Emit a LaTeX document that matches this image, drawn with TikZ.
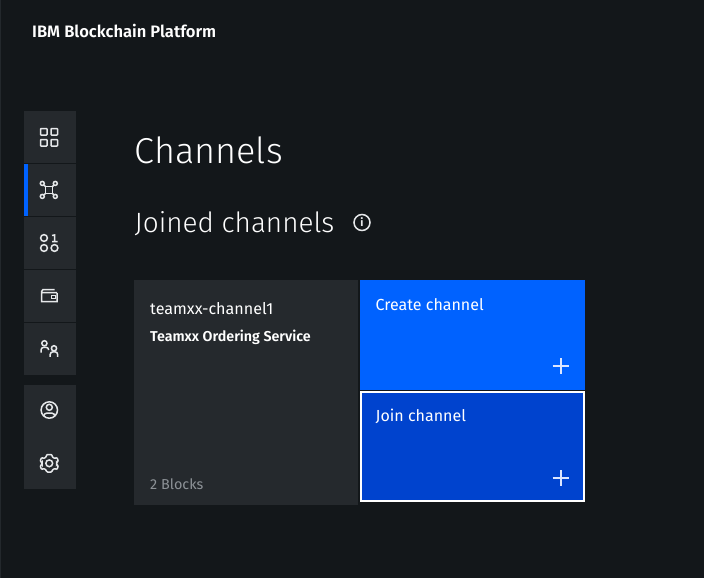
\documentclass[tikz,border=0pt]{standalone}
\usepackage{fontspec}
\setmainfont{Fira Sans}
\newfontfamily\lightfont{Fira Sans Light}
\newfontfamily\mediumfont{Fira Sans SemiBold}
\definecolor{pagebg}{HTML}{13171A}
\definecolor{edgeline}{HTML}{23282C}
\definecolor{tilebg}{HTML}{25292D}
\definecolor{activeblue}{HTML}{0062FF}
\definecolor{joinblue}{HTML}{0043CE}
\definecolor{iconline}{HTML}{E6E8EA}
\definecolor{mutedtext}{HTML}{8D9297}
\definecolor{plusline}{HTML}{DCE6FF}
\tikzset{
tile/.style={fill=tilebg, draw=none, inner sep=0pt, minimum width=52pt, minimum height=52pt, anchor=north west},
icon/.style={draw=iconline, line width=1.5pt},
label/.style={text=white, inner sep=0pt, anchor=base west},
plus/.style={draw=plusline, line width=1.2pt},
}
\begin{document}
\begin{tikzpicture}
[x=1pt, y=-1pt]
\useasboundingbox (0,0) rectangle (704,578);
\fill [pagebg] (0,0) rectangle (704,578);
\fill [edgeline] (0,0) rectangle (1,578);
\node [label, font=\mediumfont\fontsize{16.55}{18}\selectfont] (brand) at (32,37.5) {IBM Blockchain Platform};
% sidebar
\node [tile] (tileA) at (24,111) {};
\node [tile] (tileB) at (24,164) {};
\node [tile] (tileC) at (24,217) {};
\node [tile] (tileD) at (24,270) {};
\node [tile] (tileE) at (24,323) {};
\node [tile] (tileF) at (24,385) {};
\node [tile] (tileG) at (24,437) {};
\fill [activeblue] (24,164) rectangle (27.5,216);
% dashboard icon
\draw [icon, rounded corners=0.6pt] (40.5,128.5) rectangle (47,135);
\draw [icon, rounded corners=0.6pt] (51,128.5) rectangle (57.5,135);
\draw [icon, rounded corners=0.6pt] (40.5,139.5) rectangle (47,146);
\draw [icon, rounded corners=0.6pt] (51,139.5) rectangle (57.5,146);
% network icon
\draw [icon] (45.5,186.5) rectangle (52.5,193.5);
\draw [icon] (42.3,183.4) circle (2) (55.3,183.4) circle (2) (42.3,196.4) circle (2) (55.3,196.4) circle (2);
\draw [icon] (43.6,185) -- (45.5,186.5) (54,185) -- (52.5,186.5) (43.6,195) -- (45.5,193.5) (54,195) -- (52.5,193.5);
% binary icon
\draw [icon] (44,238) circle (3.4) (44,248) circle (3.4) (54.5,248) circle (3.4);
\draw [icon] (52,235.5) -- (54.5,235) -- (54.5,241.5) (52,241.5) -- (57.5,241.5);
% wallet icon
\draw [icon] (57,293) -- (57,301.5) -- (41.5,301.5) -- (41.5,291.5) -- (43,289.5) -- (54.5,289.5) (41.5,292.5) -- (57,292.5);
\draw [icon, line width=1pt] (51.5,295.5) rectangle (55,298.5);
% people icon
\draw [icon] (44.4,343.3) circle (2.6) (54,348.3) circle (2.6);
\draw [icon] (41,352.5) -- (41,350) arc (180:270:2.7) -- (46,347.3) arc (270:360:2.7) (50.2,356.8) -- (50.2,354.5) arc (180:270:2.7) -- (55,351.8) arc (-90:0:2.7) -- (57.7,356.8);
% account icon
\draw [icon] (49.3,410) circle (8.2) (49.3,407.3) circle (3);
\draw [icon] (43.8,416) arc (180:270:2.8) -- (52,413.2) arc (270:360:2.8);
% gear icon
\draw [icon, rounded corners=0.8pt] (46.8,454.5) -- (51.7,454.5) -- (52.5,457.2) -- (54.7,458.4) -- (57,457.6) -- (58.3,461) -- (56.5,462.8) -- (56.5,464.2) -- (58.3,466) -- (57,469.4) -- (54.7,468.6) -- (52.5,469.8) -- (51.7,472) -- (46.8,472) -- (46,469.8) -- (43.8,468.6) -- (41.5,469.4) -- (40.2,466) -- (42,464.2) -- (42,462.8) -- (40.2,461) -- (41.5,457.6) -- (43.8,458.4) -- (46,457.2) -- cycle;
\draw [icon] (49.25,463.3) circle (3.4);
% headings
\node [label, font=\lightfont\fontsize{36}{40}\selectfont] (title) at (134.5,163) {Channels};
\node [label, font=\lightfont\fontsize{27.9}{32}\selectfont] (subtitle) at (134.5,232) {Joined channels};
\draw [icon] (362,222.5) circle (8);
\node [inner sep=0pt, text=iconline, font=\bfseries\fontsize{11}{12}\selectfont] (infomark) at (362,222.5) {i};
% channel card
\fill [tilebg] (134,280) rectangle (358,505);
\node [label, font=\fontsize{16.1}{20}\selectfont] (channame) at (150,314.5) {teamxx-channel1};
\node [label, font=\mediumfont\fontsize{14.3}{18}\selectfont] (ordering) at (150,341) {Teamxx Ordering Service};
\node [label, text=mutedtext, font=\fontsize{14.4}{18}\selectfont] (blocks) at (150,489) {2 Blocks};
% action tiles
\fill [activeblue] (360,280) rectangle (585,390);
\node [label, font=\fontsize{16}{20}\selectfont] (create) at (375.5,310) {Create channel};
\draw [plus] (552.5,366) -- (569,366) (561,358) -- (561,374);
\draw [fill=joinblue, draw=white, line width=2pt] (361,392) rectangle (584,501);
\node [label, font=\fontsize{16}{20}\selectfont] (join) at (375.5,421) {Join channel};
\draw [plus] (552.5,478) -- (569,478) (561,470) -- (561,486);
\end{tikzpicture}
\end{document}
